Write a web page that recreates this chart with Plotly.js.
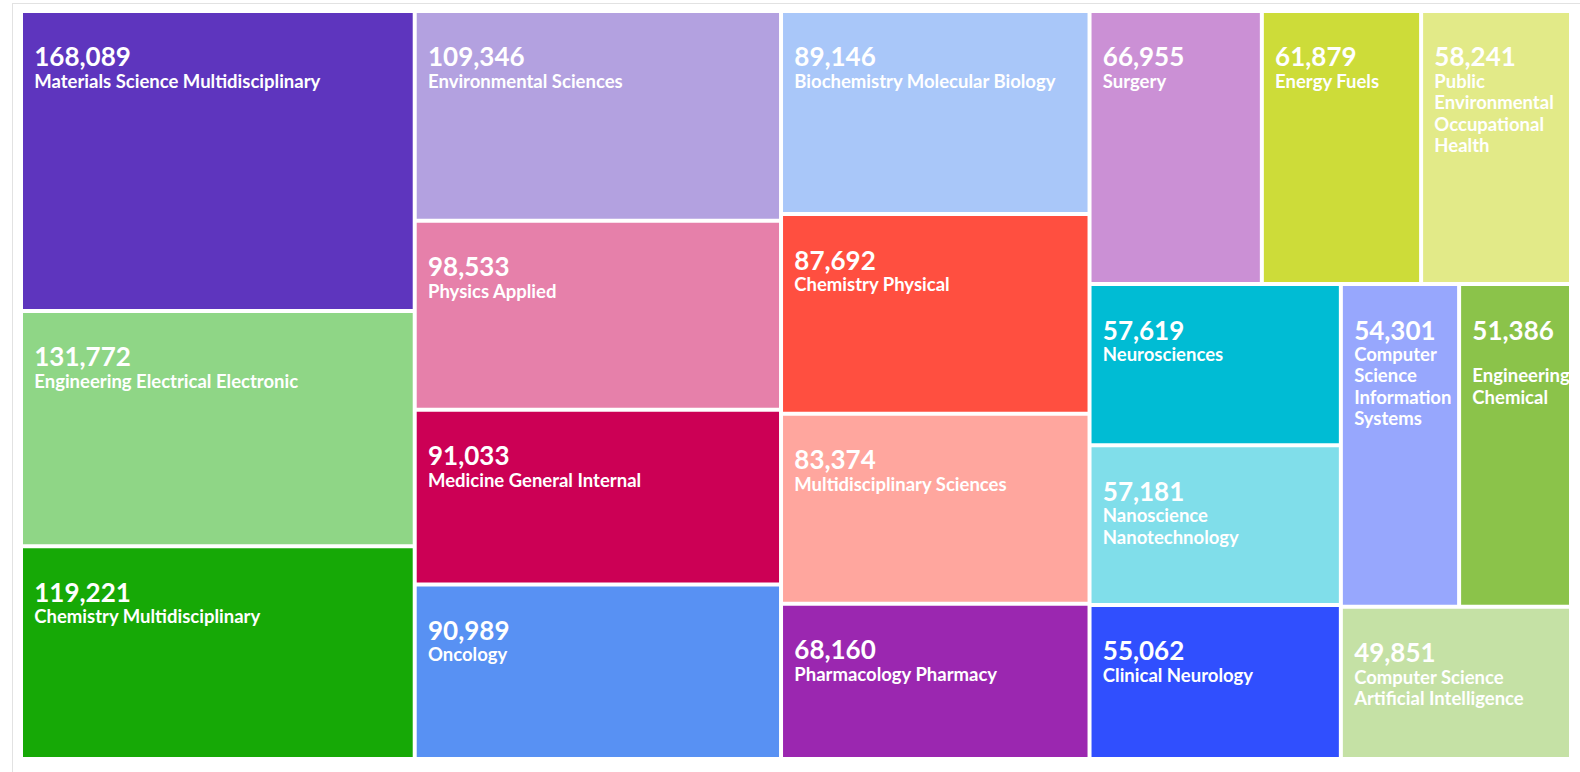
<!DOCTYPE html>
<html>
<head>
<meta charset="utf-8">
<script src="https://cdn.plot.ly/plotly-3.0.1.min.js"></script>
<style>
    html, body { margin: 0; padding: 0; background: #fff; overflow: hidden; }
    #chart { position: absolute; left: 0; top: 0; width: 1580px; height: 772px; }
    #frame { position: absolute; left: 12px; top: 3px; width: 1700px; height: 900px;
             border: 1.5px solid #e2e2e2; pointer-events: none; }
</style>
</head>
<body>
<div id="chart"></div>
<div id="frame"></div>
<script>
// research areas and publication counts
const categories = [
    "Materials Science Multidisciplinary", "Engineering Electrical Electronic", "Chemistry Multidisciplinary",
    "Environmental Sciences", "Physics Applied", "Medicine General Internal", "Oncology",
    "Biochemistry Molecular Biology", "Chemistry Physical", "Multidisciplinary Sciences", "Pharmacology Pharmacy",
    "Surgery", "Energy Fuels", "Public Environmental Occupational Health",
    "Neurosciences", "Nanoscience Nanotechnology", "Clinical Neurology",
    "Computer Science Information Systems", "Engineering Chemical", "Computer Science Artificial Intelligence"
];
const counts = [
    168089, 131772, 119221,
    109346, 98533, 91033, 90989,
    89146, 87692, 83374, 68160,
    66955, 61879, 58241,
    57619, 57181, 55062,
    54301, 51386, 49851
];
const tileColors = [
    "#5e35be", "#8fd686", "#16a906",
    "#b3a1e0", "#e680aa", "#cc0055", "#5891f3",
    "#a9c7f9", "#ff4f40", "#ffa69e", "#9b27b0",
    "#cb90d5", "#cddc39", "#e2ea88",
    "#00bcd4", "#80deea", "#304ffe",
    "#97a7fd", "#8bc34a", "#c5e1a5"
];
// line breaks used in the narrow tiles
const wrapped = {
    "Public Environmental Occupational Health": "Public<br>Environmental<br>Occupational<br>Health",
    "Nanoscience Nanotechnology": "Nanoscience<br>Nanotechnology",
    "Computer Science Information Systems": "Computer<br>Science<br>Information<br>Systems",
    "Engineering Chemical": "<br>Engineering<br>Chemical",
    "Computer Science Artificial Intelligence": "Computer Science<br>Artificial Intelligence"
};

// plotly has no text inset for treemap leaves, so pad with an em-space
const indent = "<span style='font-size:11px'>\u2003</span>";
const spacer = "<span style='font-size:29.5px'>\u2003</span>";

let shown = categories.map((c, i) => {
    let lines = (wrapped[c] || c).split("<br>");
    let s = spacer + "<br>" + indent + "<span style='font-size:26px'>" + counts[i].toLocaleString('en-US') + "</span>";
    for (let l of lines) s += "<br>" + indent + "<span style='font-size:18.5px'>" + l + "</span>";
    return s;
});

let trace = {
    type: 'treemap',
    labels: categories,
    parents: categories.map(() => ""),
    values: counts,
    text: shown,
    sort: true,
    texttemplate: "%{text}",
    textposition: 'top left',
    textfont: { family: 'Lato, "Open Sans", sans-serif', size: 16.5, color: '#fff', weight: 'bold' },
    marker: { colors: tileColors, line: { width: 0 }, pad: { t: 0, l: 0, r: 0, b: 0 } },
    tiling: { packing: 'squarify', squarifyratio: 1.618, pad: 4 },
    pathbar: { visible: false },
    hoverinfo: 'skip'
};

let layout = {
    margin: { l: 23, t: 13, r: 11, b: 15 },
    paper_bgcolor: 'rgba(0,0,0,0)',
    uniformtext: { mode: 'show', minsize: 16.5 },
    showlegend: false
};

Plotly.newPlot('chart', [trace], layout, { displayModeBar: false, staticPlot: true });
</script>
</body>
</html>
